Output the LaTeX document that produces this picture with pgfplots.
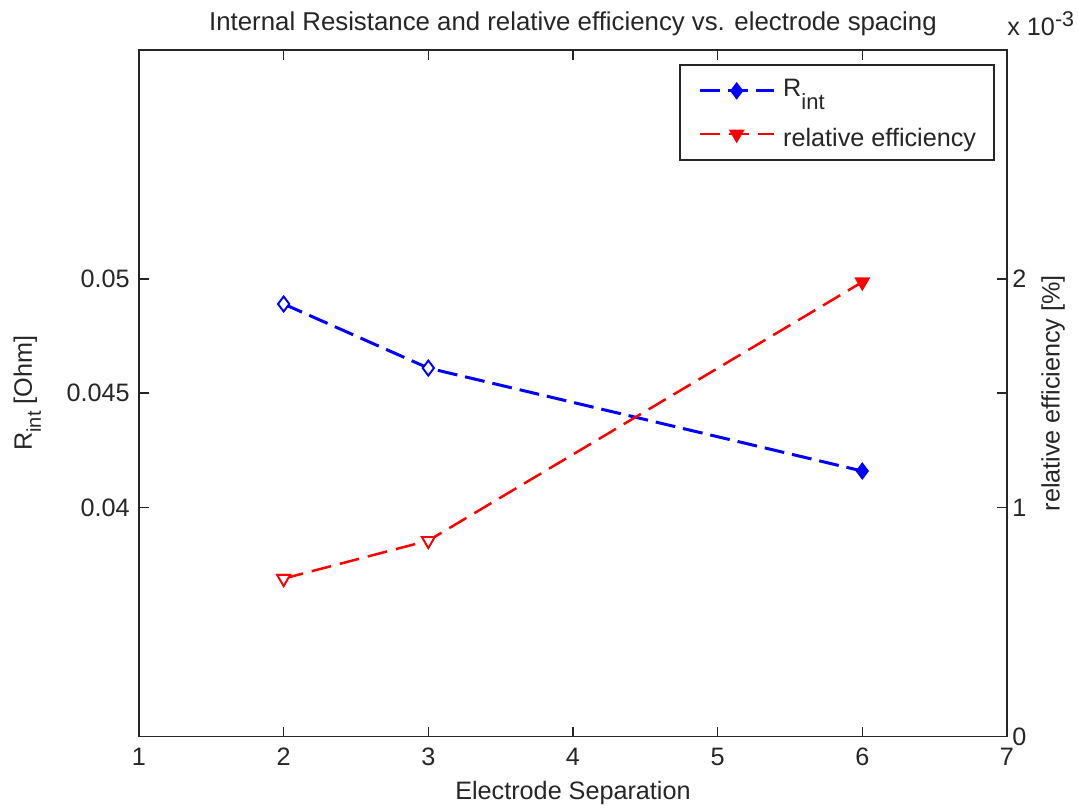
\documentclass[border=0pt]{standalone}
\usepackage{fontspec}
\setmainfont{Liberation Sans}
\usepackage{pgfplots}
\usepackage{pgfplotstable}
\pgfplotsset{compat=1.18}

\pgfplotstableread{
x r
2 0.0489
3 0.0461
6 0.0416
}\rinttable

% relative efficiency in units of 10^-3 %
\pgfplotstableread{
x e
2 0.690
3 0.856
6 1.986
}\efftable

\definecolor{mblue}{RGB}{0,0,255}
\definecolor{mred}{RGB}{255,0,0}
\definecolor{axc}{RGB}{38,38,38}

\pgfplotsset{
  rintstyle/.style={color=mblue, line width=1.5pt, dash pattern=on 10pt off 4pt,
    mark=diamond*, mark size=3.7pt, mark options={solid, fill=mblue, line width=0.9pt}},
  effstyle/.style={color=mred, line width=1.25pt, dash pattern=on 10pt off 4.5pt,
    mark=triangle*, mark size=3.7pt, mark options={solid, rotate=180, fill=mred, line width=0.9pt}},
  common/.style={
    scale only axis, width=434pt, height=343.25pt,
    xmin=1, xmax=7,
    tick align=inside, major tick length=4.8pt,
    axis line style={axc, line width=0.8pt},
    tick style={axc, line width=0.8pt},
    font=\fontsize{12.6}{15}\selectfont,
    tick label style={font=\fontsize{12.6}{15}\selectfont, text=axc},
    label style={font=\fontsize{12.6}{15}\selectfont, text=axc},
  },
}

\begin{document}
\fontsize{12.6}{15}\selectfont
\begin{tikzpicture}
\begin{axis}[common,
  ymin=0.03, ymax=0.06,
  xtick={1,2,3,4,5,6,7}, xticklabels={1,2,3,4,5,6,7},
  ytick={0.04,0.045,0.05}, yticklabels={0.04,0.045,0.05},
  scaled y ticks=false, scaled x ticks=false,
  xtick pos=both, ytick pos=both, xticklabel pos=bottom, yticklabel pos=left,
  xticklabel style={anchor=north, inner sep=0pt, yshift=-5.75pt},
  yticklabel style={anchor=east, inner sep=0pt, xshift=-4.5pt},
  title={Internal Resistance and relative efficiency vs. electrode spacing},
  title style={at={(axis description cs:0.5,1)}, anchor=base, inner sep=0pt, yshift=3.65pt,
    font=\fontsize{12.9}{15}\selectfont, text=axc},
  xlabel={Electrode Separation},
  xlabel style={at={(axis description cs:0.5,0)}, anchor=north, inner sep=0pt, yshift=-22pt},
  ylabel={R\raisebox{-4.5pt}{\fontsize{10}{12}\selectfont int} [Ohm]},
  ylabel style={at={([xshift=-62.85pt]axis description cs:0,0.5)}, anchor=north, inner sep=0pt, rotate=0},
]
\addplot[rintstyle] table[x=x, y=r] {\rinttable};
\addplot[rintstyle, forget plot, only marks, mark options={solid, fill=white, line width=0.9pt},
  restrict x to domain=1.5:3.5] table[x=x, y=r] {\rinttable};
\end{axis}

\begin{axis}[common,
  ymin=0, ymax=3, clip=false,
  axis y line*=right, axis x line=none,
  ytick={0,1,2}, yticklabels={0,1,2},
  scaled y ticks=false,
  yticklabel style={anchor=west, inner sep=0pt, xshift=2.5pt},
  ylabel={relative efficiency [\%]},
  ylabel style={at={([xshift=17pt]axis description cs:1,0.5)}, anchor=north, inner sep=0pt, rotate=0},
  legend cell align=left,
  legend image code/.code={\draw[mark repeat=2, mark phase=2, #1] plot coordinates {(0pt,0pt) (18.5pt,0pt) (37pt,0pt)};},
  legend style={at={(axis description cs:0.986,0.979)}, anchor=north east,
    draw=axc, line width=0.8pt, fill=white,
    inner xsep=9pt, inner ysep=5.8pt, row sep=7.7pt,
    font=\fontsize{12.6}{15}\selectfont, text=axc,
    /tikz/every odd column/.append style={column sep=4pt},
    nodes={inner sep=0pt, text height=13pt, text depth=1pt}},
]
\addlegendimage{rintstyle}
\addlegendentry{\raisebox{3.3pt}{R}\raisebox{-3.2pt}{\fontsize{11}{12}\selectfont int}}
\addplot[effstyle] table[x=x, y=e] {\efftable};
\addlegendentry{relative efficiency}
\addplot[effstyle, forget plot, only marks, mark options={solid, rotate=180, fill=white, line width=0.9pt},
  restrict x to domain=1.5:3.5] table[x=x, y=e] {\efftable};
\node[anchor=base west, inner sep=0pt, text=axc, font=\fontsize{12.6}{15}\selectfont]
  at ([yshift=7.25pt]axis description cs:1,1) {x 10\raisebox{4.7pt}{\fontsize{10.7}{12}\selectfont -3}};
\end{axis}
\pgfresetboundingbox
\path (-69.5pt,-35.75pt) rectangle (469.5pt,368.25pt);
\end{tikzpicture}
\end{document}
